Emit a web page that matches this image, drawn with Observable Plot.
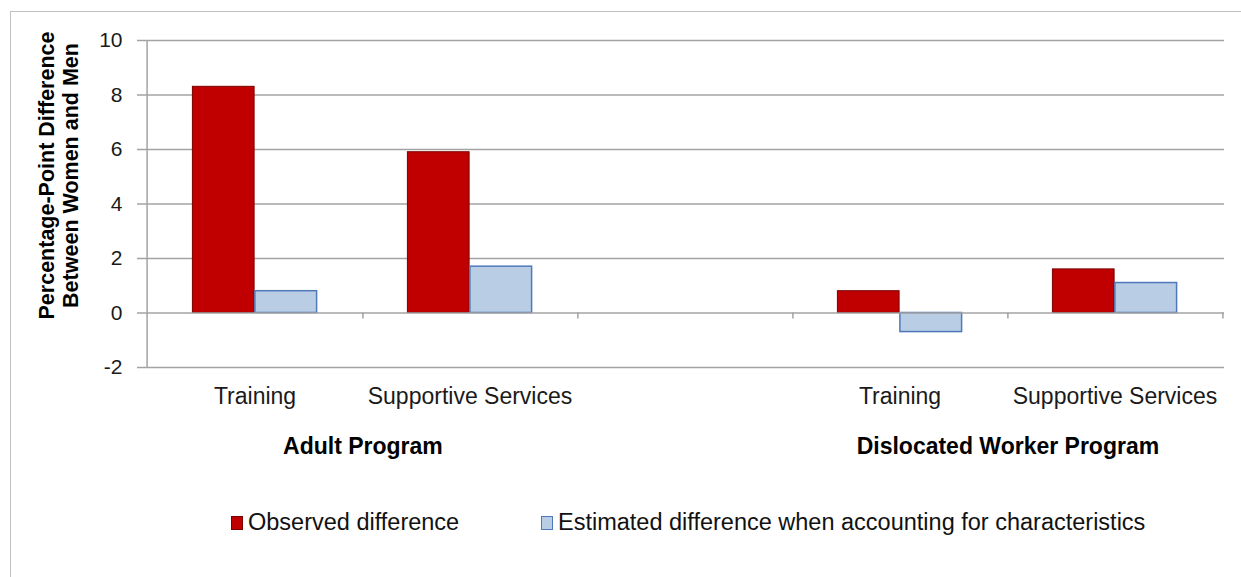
<!DOCTYPE html>
<html>
<head>
<meta charset="utf-8">
<script src="https://cdn.jsdelivr.net/npm/d3@7"></script>
<script src="https://cdn.jsdelivr.net/npm/@observablehq/plot@0.6"></script>
<style>
  html, body { margin: 0; padding: 0; background: #fff; overflow: hidden; width: 1241px; height: 577px; }
  #frame { position: absolute; left: 10px; top: 11px; width: 1300px; height: 620px; border-left: 1px solid #c0c0c0; border-top: 1px solid #c0c0c0; }
  #chart { position: absolute; left: 0; top: 0; }
  .legend-item { position: absolute; top: 509px; display: flex; align-items: center; font-family: "Liberation Sans", Arial, sans-serif; font-size: 23.5px; color: #111; white-space: nowrap; }
  .swatch { width: 12px; height: 14px; margin-right: 5px; box-sizing: border-box; }
</style>
</head>
<body>
<div id="frame"></div>
<div id="chart"></div>
<div id="legend"></div>
<script>
// ---- data ----
const slots = ["adult-training", "adult-supportive", "gap", "dw-training", "dw-supportive"];
const slotLabels = ["Training", "Supportive Services", "", "Training", "Supportive Services"];
const seriesNames = ["Observed difference", "Estimated difference when accounting for characteristics"];
const observed = [8.3, 5.9, null, 0.8, 1.6];
const estimated = [0.8, 1.7, null, -0.7, 1.1];
const groupSlots = ["adult-training", "dw-training"];
const groupLabels = ["Adult Program", "Dislocated Worker Program"];
const yTicks = [-2, 0, 2, 4, 6, 8, 10];
const yTitle = "Percentage-Point Difference\nBetween Women and Men";
const colors = ["#C00000", "#B9CDE5"];
const strokes = ["#7a0000", "#4F79B8"];

// ---- build rows ----
const obsRows = slots.map((s, i) => ({slot: s, value: observed[i]})).filter(d => d.value != null);
const estRows = slots.map((s, i) => ({slot: s, value: estimated[i]})).filter(d => d.value != null);
const groupRows = groupSlots.map((s, i) => ({slot: s, label: groupLabels[i]}));

const W = 1241, H = 470, ML = 145, MR = 17, MT = 40, MB = 103;
const bw = (W - ML - MR) / slots.length;
const barW = 62.5;
const grid = "#a3a3a3";
const font = "Liberation Sans, Arial, sans-serif";

const chart = Plot.plot({
  width: W,
  height: H,
  marginLeft: ML,
  marginRight: MR,
  marginTop: MT,
  marginBottom: MB,
  style: {fontFamily: font, background: "transparent", overflow: "visible"},
  x: {type: "band", domain: slots, padding: 0, axis: null},
  y: {domain: [-2, 10], axis: null},
  marks: [
    // gridlines with left tick marks
    Plot.ruleY(yTicks.filter(t => t !== 0), {y: d => d, stroke: grid, strokeWidth: 1.5, insetLeft: -8}),
    // left axis line
    Plot.ruleX([slots[0]], {x: d => d, dx: -bw / 2, y1: -2, y2: 10, stroke: grid, strokeWidth: 1.5}),
    // bars
    Plot.barY(obsRows, {x: "slot", y: "value", fill: colors[0], stroke: strokes[0], strokeWidth: 1,
      insetLeft: bw / 2 - barW, insetRight: bw / 2}),
    Plot.barY(estRows, {x: "slot", y: "value", fill: colors[1], stroke: strokes[1], strokeWidth: 1.5,
      insetLeft: bw / 2, insetRight: bw / 2 - barW}),
    // zero line
    Plot.ruleY([0], {y: d => d, stroke: grid, strokeWidth: 1.5, insetLeft: -8}),
    // category boundary ticks on the zero line
    Plot.ruleX(slots, {x: d => d, dx: bw / 2, y1: 0, y2: -0.22, stroke: grid, strokeWidth: 1.5}),
    // y tick labels
    Plot.text(yTicks, {y: d => d, text: d => String(d), frameAnchor: "left", dx: -23,
      textAnchor: "end", lineAnchor: "middle", fontSize: 21, fill: "#1a1a1a"}),
    // category labels
    Plot.text(slots, {x: d => d, text: (d, i) => slotLabels[i], frameAnchor: "bottom", dy: 29,
      textAnchor: "middle", lineAnchor: "middle", fontSize: 23, fill: "#1a1a1a"}),
    // group labels
    Plot.text(groupRows, {x: "slot", text: "label", frameAnchor: "bottom", dx: bw / 2, dy: 79,
      textAnchor: "middle", lineAnchor: "middle", fontSize: 23, fontWeight: "bold", fill: "#000"}),
    // y title
    Plot.text([yTitle], {text: d => d, frameAnchor: "left", rotate: -90, dx: -87, dy: -28.5,
      textAnchor: "middle", lineAnchor: "middle",
      fontSize: 21.5, fontWeight: "bold", lineHeight: 1.1, fill: "#000"})
  ]
});
document.getElementById("chart").appendChild(chart);

// ---- legend ----
const legend = document.getElementById("legend");
const legendLefts = [231, 541];
seriesNames.forEach((name, i) => {
  const item = document.createElement("div");
  item.className = "legend-item";
  item.style.left = legendLefts[i] + "px";
  const sw = document.createElement("span");
  sw.className = "swatch";
  sw.style.background = colors[i];
  sw.style.border = "1px solid " + strokes[i];
  const tx = document.createElement("span");
  tx.textContent = name;
  item.appendChild(sw);
  item.appendChild(tx);
  legend.appendChild(item);
});
</script>
</body>
</html>
